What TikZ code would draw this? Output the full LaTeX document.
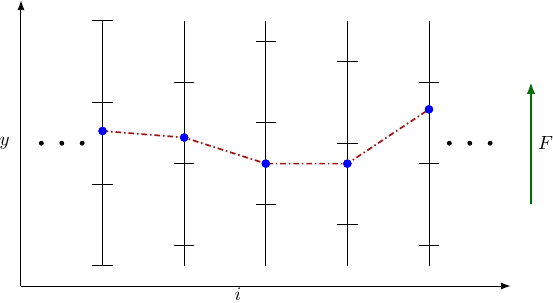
\documentclass[tikz,border=0pt]{standalone}
\usepackage{tikz}
\usetikzlibrary{arrows.meta, positioning}
\usepackage{xcolor}
\definecolor{chainred}{RGB}{160,20,20}
\definecolor{forcegreen}{RGB}{0,110,0}

\begin{document}
\begin{tikzpicture}[
    x=1.5cm, y=1.5cm,
    rod/.style={line width=0.45pt},
    notch/.style={line width=0.45pt},
    bead/.style={circle, fill=blue, inner sep=0pt, minimum size=1.55mm},
    dotnode/.style={circle, fill=black, inner sep=0pt, minimum size=0.9mm},
    chain/.style={dash pattern=on 3pt off 1.5pt on 0.8pt off 1.5pt, line width=0.9pt, chainred},
    axis/.style={-{Latex[length=1.8mm, width=1.3mm]}, line width=0.5pt},
    force/.style={-{Latex[length=2.2mm, width=1.6mm]}, line width=1.5pt, forcegreen}
]
    \useasboundingbox (-0.257,-0.208) rectangle (6.52,3.505);
    % axes
    \coordinate (O) at (0,0); \coordinate (ytop) at (0,3.5); \coordinate (xend) at (6,0);
    \draw[axis] (O) -- (ytop); \draw[axis] (O) -- (xend);
    \node (ylab) at (-0.2,1.75) {$y$};
    \node[inner sep=1pt] (ilab) at (2.66,-0.1) {$i$};
    % rods
    \foreach \x in {1,...,5} \draw[rod] (\x,0.25) -- (\x,3.25);
    % notches on each rod
    \foreach \y in {0.25,1.25,2.25,3.25} \draw[notch] (1-0.125,\y) -- (1+0.125,\y);
    \foreach \y in {0.5,1.5,2.5} \draw[notch] (2-0.125,\y) -- (2+0.125,\y);
    \foreach \y in {1,2,3} \draw[notch] (3-0.125,\y) -- (3+0.125,\y);
    \foreach \y in {0.75,1.75,2.75} \draw[notch] (4-0.125,\y) -- (4+0.125,\y);
    \foreach \y in {0.5,1.5,2.5} \draw[notch] (5-0.125,\y) -- (5+0.125,\y);
    % beads and chain
    \node[bead] (b1) at (1,1.90) {};
    \node[bead] (b2) at (2,1.82) {};
    \node[bead] (b3) at (3,1.50) {};
    \node[bead] (b4) at (4,1.50) {};
    \node[bead] (b5) at (5,2.165) {};
    \draw[chain] (b1.center) -- (b2.center) -- (b3.center) -- (b4.center) -- (b5.center);
    \node[bead] at (b1) {}; \node[bead] at (b2) {}; \node[bead] at (b3) {};
    \node[bead] at (b4) {}; \node[bead] at (b5) {};
    % dots
    \node[dotnode] (l1) at (0.25,1.75) {}; \node[dotnode] (l2) at (0.5,1.75) {};
    \node[dotnode] (l3) at (0.75,1.75) {};
    \node[dotnode] (r1) at (5.25,1.75) {}; \node[dotnode] (r2) at (5.5,1.75) {};
    \node[dotnode] (r3) at (5.75,1.75) {};
    % force
    \coordinate (fbot) at (6.25,1); \coordinate (ftop) at (6.25,2.5);
    \draw[force] (fbot) -- (ftop);
    \node (flab) at (6.43,1.75) {$F$};
\end{tikzpicture}
\end{document}
